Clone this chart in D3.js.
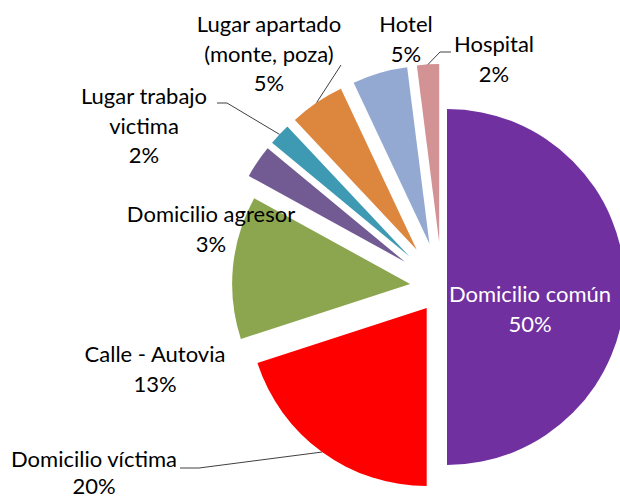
<!DOCTYPE html>
<html>
<head>
<meta charset="utf-8">
<script src="https://cdn.jsdelivr.net/npm/d3@7"></script>
<style>
  body { margin: 0; background: #fff; }
  text { font-family: Lato, "Open Sans", sans-serif; }
</style>
</head>
<body>
<div id="draw"></div>
<script>
// data (clockwise from 12 o'clock)
const categories = ["Domicilio común", "Domicilio víctima", "Calle - Autovia", "Domicilio agresor",
                    "Lugar trabajo victima", "Lugar apartado (monte, poza)", "Hotel", "Hospital"];
const values = [50, 20, 13, 3, 2, 5, 5, 2];
const pctLabels = ["50%", "20%", "13%", "3%", "2%", "5%", "5%", "2%"];

// look of each slice
const colors = ["#7030A0", "#FF0000", "#8CA650", "#725A92", "#3E9AB2", "#DD863E", "#93A9D2", "#D39293"];
const explode = [5, 26, 32, 45, 45, 45, 45, 45];

// label layout: lines, centre x, first baseline, line gap, optional leader start
const labelLayout = [
  { lines: ["Domicilio común", "50%"], x: 530, y: 302, fill: "#fff" },
  { lines: ["Domicilio víctima", "20%"], x: 94, y: 467, gap: 27, lead: [[180, 468], [199, 468]] },
  { lines: ["Calle - Autovia", "13%"], x: 155, y: 362 },
  { lines: ["Domicilio agresor", "3%"], x: 211, y: 222 },
  { lines: ["Lugar trabajo", "victima", "2%"], x: 144, y: 104, lead: [[217, 103], [227, 103]] },
  { lines: ["Lugar apartado", "(monte, poza)", "5%"], x: 269, y: 32, lead: [[341, 65]] },
  { lines: ["Hotel", "5%"], x: 406, y: 32 },
  { lines: ["Hospital", "2%"], x: 494, y: 52, lead: [[451, 52], [440, 52]] }
];

class ExplodedPie {
  constructor(sel) {
    this.w = 620;
    this.h = 498;
    this.cx = 442;
    this.cy = 287;
    this.r = 178;
    this.fontSize = 22;
    this.lineH = 29.5;
    this.svg = d3.select(sel).append("svg")
      .attr("width", this.w)
      .attr("height", this.h);
  }

  render() {
    const pie = d3.pie().sort(null).value(d => d)(values);
    const arc = d3.arc().innerRadius(0).outerRadius(this.r);
    const g = this.svg.append("g").attr("transform", `translate(${this.cx},${this.cy})`);

    // every slice pushed out along its middle angle
    const off = (d, i) => {
      const a = (d.startAngle + d.endAngle) / 2;
      return [explode[i] * Math.sin(a), -explode[i] * Math.cos(a)];
    };

    g.selectAll("path.slice")
      .data(pie)
      .join("path")
      .attr("class", "slice")
      .attr("transform", (d, i) => `translate(${off(d, i)})`)
      .attr("d", arc)
      .style("fill", (d, i) => colors[i]);

    // leader lines end on the outer arc at the middle angle
    pie.forEach((d, i) => {
      const lay = labelLayout[i];
      if (!lay.lead) return;
      const a = (d.startAngle + d.endAngle) / 2;
      const rr = this.r + explode[i];
      const end = [this.cx + rr * Math.sin(a), this.cy - rr * Math.cos(a)];
      this.svg.append("path")
        .attr("d", d3.line()(lay.lead.concat([end])))
        .style("fill", "none")
        .style("stroke", "#404040")
        .style("stroke-width", 1);
    });

    // labels
    labelLayout.forEach((lay, i) => {
      const gap = lay.gap || this.lineH;
      const t = this.svg.append("text")
        .attr("text-anchor", "middle")
        .style("font-size", this.fontSize + "px")
        .style("fill", lay.fill || "#000");
      lay.lines.forEach((ln, k) => {
        t.append("tspan")
          .attr("x", lay.x)
          .attr("y", lay.y + k * gap)
          .text(ln);
      });
    });
  }
}

new ExplodedPie("#draw").render();
</script>
</body>
</html>
